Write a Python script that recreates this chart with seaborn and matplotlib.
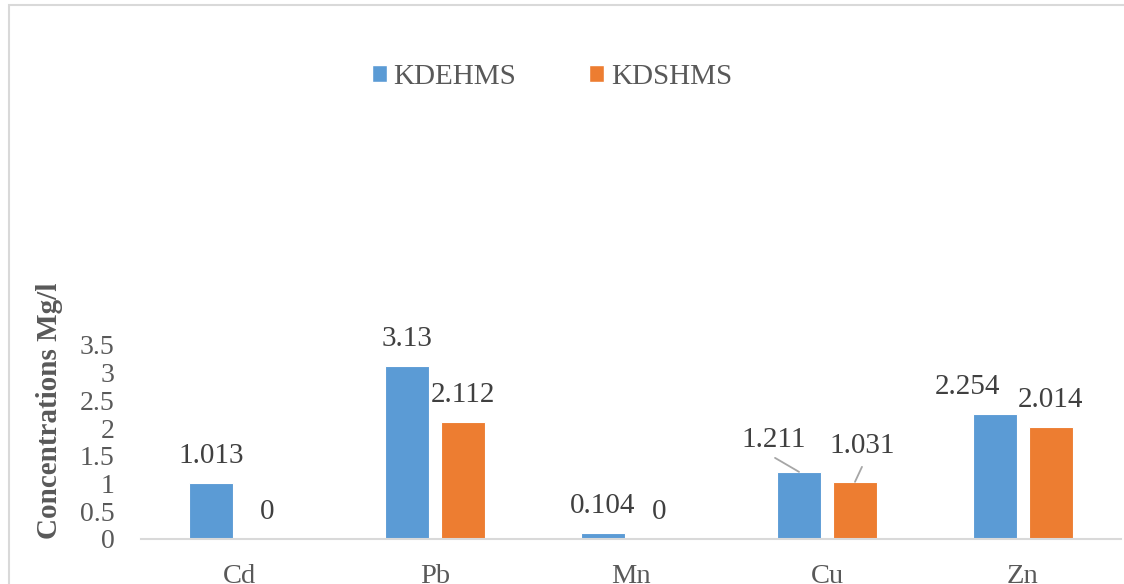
import pandas as pd
import matplotlib.pyplot as plt
from matplotlib.patches import Patch, Rectangle
import seaborn as sns

# Data
metals = ['Cd', 'Pb', 'Mn', 'Cu', 'Zn']
kdehms = [1.013, 3.13, 0.104, 1.211, 2.254]
kdshms = [0, 2.112, 0, 1.031, 2.014]
series = ['KDEHMS', 'KDSHMS']
colors = ['#5B9BD5', '#ED7D31']

df = pd.DataFrame({
    'metal': metals * 2,
    'value': kdehms + kdshms,
    'series': [series[0]] * len(metals) + [series[1]] * len(metals),
})

sns.set_style('white')
plt.rcParams['font.family'] = ['Liberation Serif', 'DejaVu Serif']

fig = plt.figure(figsize=(11.24, 5.84), dpi=100)
ax = fig.add_axes([141 / 1124, 45 / 584, 980 / 1124, 194 / 584])

sns.barplot(data=df, x='metal', y='value', hue='series', order=metals,
            hue_order=series, palette=colors, saturation=1, width=0.571,
            gap=0.214, edgecolor='white', linewidth=0.8, legend=False, ax=ax)

ax.set_xlim(-0.5, 4.5)
ax.set_ylim(0, 3.5)
ax.set_yticks([0, 0.5, 1, 1.5, 2, 2.5, 3, 3.5])
ax.set_yticklabels(['0', '0.5', '1', '1.5', '2', '2.5', '3', '3.5'])
ax.tick_params(axis='y', length=0, pad=19, labelsize=20, labelcolor='#595959')
ax.tick_params(axis='x', length=0, pad=18, labelsize=20.5, labelcolor='#595959')
ax.set_xlabel('')
ax.set_ylabel('Concentrations Mg/l', fontsize=21, fontweight='bold', color='#595959')
ax.yaxis.set_label_coords(-0.08, 0.66)

for side in ['top', 'right', 'left']:
    ax.spines[side].set_visible(False)
ax.spines['bottom'].set_color('#d9d9d9')
ax.spines['bottom'].set_linewidth(1.5)

# data labels (pixel offsets; a few were dragged in the original)
moved = {(0, 3): (-25, 32), (1, 3): (7, 36), (0, 4): (-28, 27)}
leader = {(0, 3): (-24, 14), (1, 3): (7, 15)}
for i, cont in enumerate(ax.containers):
    for j, bar in enumerate(cont):
        x = bar.get_x() + bar.get_width() / 2
        h = bar.get_height()
        dx, dy = moved.get((i, j), (0, 27))
        ax.annotate(f'{h:g}', xy=(x, h), xytext=(dx, dy), textcoords='offset pixels',
                    ha='center', va='center', fontsize=21, color='#404040',
                    annotation_clip=False)
        if (i, j) in leader:
            ax.annotate('', xy=(x, h), xytext=leader[(i, j)], textcoords='offset pixels',
                        arrowprops=dict(arrowstyle='-', color='#a6a6a6', lw=1.3,
                                        shrinkA=0, shrinkB=0),
                        annotation_clip=False)

handles = [Patch(facecolor=c, label=s) for c, s in zip(colors, series)]
fig.legend(handles=handles, loc='center', bbox_to_anchor=(0.491, 0.868),
           ncol=2, frameon=False, fontsize=21, labelcolor='#595959',
           handlelength=0.52, handleheight=0.52, handletextpad=0.22,
           columnspacing=2.5)

# chart frame
fig.patches.append(Rectangle((8.5 / 1124, -0.1), 1.2, 1.1 - 5.5 / 584,
                             transform=fig.transFigure, fill=False,
                             edgecolor='#d9d9d9', linewidth=1.5))

fig.savefig('out.png', dpi=100)
